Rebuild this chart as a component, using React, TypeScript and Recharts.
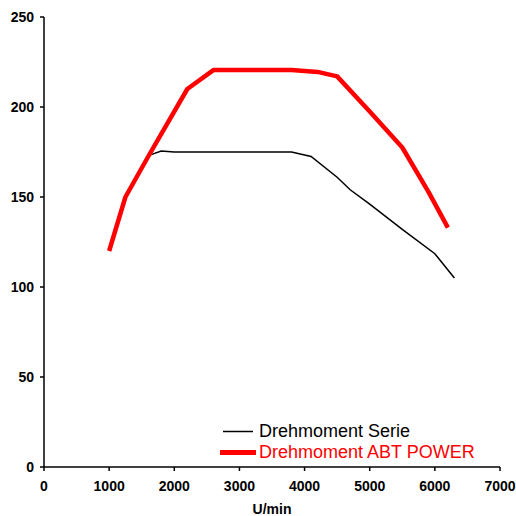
import React from 'react';
import { LineChart, Line, XAxis, YAxis, Legend } from 'recharts';

const serieRpm = [1600, 1800, 2000, 3800, 4100, 4500, 4700, 5000, 5500, 6000, 6300];
const serieTorque = [173, 175.5, 175, 175, 172.5, 161, 154, 146, 132, 118.5, 105];

const abtRpm = [1000, 1250, 1600, 2200, 2600, 3800, 4200, 4500, 5000, 5500, 5900, 6200];
const abtTorque = [120, 150, 172.5, 210, 220.5, 220.5, 219.5, 217, 197.5, 177.5, 153, 133];

const xTicks = [0, 1000, 2000, 3000, 4000, 5000, 6000, 7000];
const yTicks = [0, 50, 100, 150, 200, 250];

const serieData = serieRpm.map((rpm, i) => ({ rpm, serie: serieTorque[i] }));
const abtData = abtRpm.map((rpm, i) => ({ rpm, abt: abtTorque[i] }));

const FONT = '"Liberation Sans", Arial, sans-serif';

const LegendContent = () => (
  <div style={{ fontFamily: FONT, fontSize: 18, lineHeight: '21px', whiteSpace: 'nowrap' }}>
    <div style={{ display: 'flex', alignItems: 'center', height: 21 }}>
      <svg width={38} height={21} style={{ display: 'block' }}>
        <line x1={3} y1={10.5} x2={33} y2={10.5} stroke="#000" strokeWidth={1.5} />
      </svg>
      <span style={{ marginLeft: 1, color: '#000' }}>Drehmoment Serie</span>
    </div>
    <div style={{ display: 'flex', alignItems: 'center', height: 21 }}>
      <svg width={38} height={21} style={{ display: 'block' }}>
        <line x1={0} y1={10.5} x2={36} y2={10.5} stroke="#ff0000" strokeWidth={5} />
      </svg>
      <span style={{ marginLeft: 1, color: '#ff0000' }}>Drehmoment ABT POWER</span>
    </div>
  </div>
);

export default function App() {
  return (
    <div style={{ position: 'absolute', left: 0, top: 0, width: 516, height: 516 }}>
      <LineChart width={516} height={516} margin={{ top: 17, right: 16, bottom: 0, left: 8 }}>
        <XAxis
          type="number"
          dataKey="rpm"
          domain={[0, 7000]}
          ticks={xTicks}
          allowDuplicatedCategory={false}
          height={49}
          tickSize={4}
          tickMargin={10}
          stroke="#000"
          strokeWidth={1.5}
          tick={{ fill: '#000', fontSize: 14, fontWeight: 'bold', fontFamily: FONT }}
          tickLine={{ stroke: '#000', strokeWidth: 1.5 }}
          label={{ value: 'U/min', position: 'insideBottom', offset: 2, fill: '#000', fontSize: 14, fontWeight: 'bold', fontFamily: FONT }}
        />
        <YAxis
          type="number"
          domain={[0, 250]}
          ticks={yTicks}
          width={36}
          tickSize={4}
          tickMargin={6}
          stroke="#000"
          strokeWidth={1.5}
          tick={{ fill: '#000', fontSize: 14, fontWeight: 'bold', fontFamily: FONT }}
          tickLine={{ stroke: '#000', strokeWidth: 1.5 }}
        />
        <Legend
          layout="horizontal"
          verticalAlign="middle"
          align="center"
          content={LegendContent}
          wrapperStyle={{ position: 'absolute', left: 220, top: 420.5, width: 'auto', height: 'auto', bottom: 'auto', right: 'auto' }}
        />
        <Line
          data={serieData}
          dataKey="serie"
          stroke="#000"
          strokeWidth={1.5}
          dot={false}
          type="linear"
          isAnimationActive={false}
        />
        <Line
          data={abtData}
          dataKey="abt"
          stroke="#ff0000"
          strokeWidth={4.5}
          dot={false}
          type="linear"
          strokeLinejoin="round"
          isAnimationActive={false}
        />
      </LineChart>
    </div>
  );
}
